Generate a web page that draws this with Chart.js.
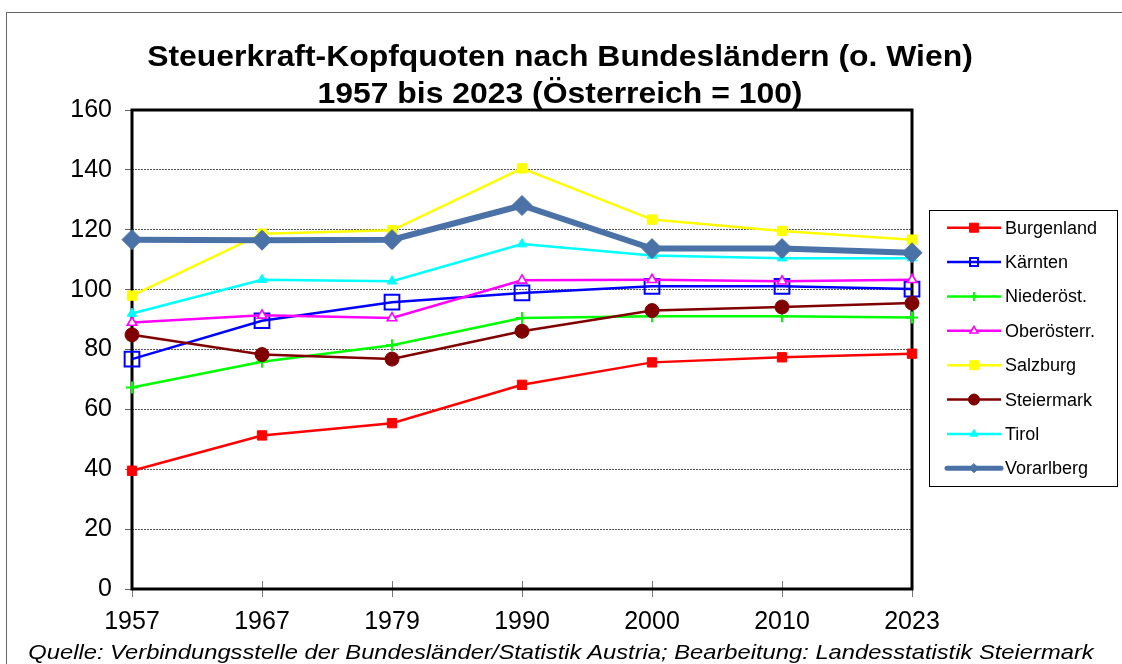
<!DOCTYPE html>
<html><head><meta charset="utf-8">
<script src="https://cdn.jsdelivr.net/npm/chart.js@4"></script>
<style>
html,body{margin:0;padding:0;background:#fff;overflow:hidden;}
#wrap{position:relative;width:1122px;height:664px;overflow:hidden;font-family:"Liberation Sans",Arial,sans-serif;background:#fff;}
#frame{position:absolute;left:6px;top:12px;width:1200px;height:700px;border:1px solid #666;}
.t{position:absolute;left:0;width:1120px;text-align:center;font-weight:bold;font-size:29px;line-height:29px;color:#000;white-space:nowrap;transform:scaleX(1.10);transform-origin:560px 0;}
#foot{position:absolute;left:0;width:1122px;text-align:center;font-style:italic;font-size:21px;line-height:21px;top:641px;white-space:nowrap;color:#000;transform:scaleX(1.13);transform-origin:561px 0;}
canvas{position:absolute;left:0;top:0;}
</style></head>
<body>
<div id="wrap">
<div id="frame"></div>
<canvas id="c" width="1122" height="664"></canvas>
<div class="t" style="top:42px">Steuerkraft-Kopfquoten nach Bundesländern (o. Wien)</div>
<div class="t" style="top:79px">1957 bis 2023 (Österreich = 100)</div>
<div id="foot">Quelle: Verbindungsstelle der Bundesländer/Statistik Austria; Bearbeitung: Landesstatistik Steiermark</div>
</div>
<script>
// ---- data ----
const years = ['1957','1967','1979','1990','2000','2010','2023'];
const seriesNames = ['Burgenland','Kärnten','Niederöst.','Oberösterr.','Salzburg','Steiermark','Tirol','Vorarlberg'];
const burgenland  = [39.5, 51.3, 55.4, 68.2, 75.7, 77.4, 78.6];
const kaernten    = [76.8, 89.6, 95.8, 98.9, 101.1, 101.1, 100.2];
const niederoest  = [67.3, 75.9, 81.4, 90.5, 91.1, 91.1, 90.7];
const oberoest    = [89.0, 91.4, 90.5, 103.1, 103.3, 102.8, 103.3];
const salzburg    = [98.0, 118.7, 119.8, 140.5, 123.4, 119.6, 116.7];
const steiermark  = [84.9, 78.3, 76.8, 86.1, 93.0, 94.2, 95.5];
const tirol       = [92.0, 103.3, 102.8, 115.2, 111.4, 110.5, 110.5];
const vorarlberg  = [116.7, 116.5, 116.7, 128.1, 113.7, 113.7, 112.3];
const yTicks = [0, 20, 40, 60, 80, 100, 120, 140, 160];

const seriesValues = [burgenland, kaernten, niederoest, oberoest, salzburg, steiermark, tirol, vorarlberg];

// ---- styles ----
const styles = [
  {c:'#FF0000', ps:'rect',     r:6.6,  bg:'#FF0000', bw:2.5, pbw:1, lr:6.4},
  {c:'#0000FF', ps:'rect',     r:10.4, bg:'rgba(0,0,0,0)', bw:2.5, pbw:2, lr:5.6},
  {c:'#00FF00', ps:'cross',    r:6,    bg:'#00FF00', bw:2.5, pbw:2, lr:4.5},
  {c:'#FF00FF', ps:'triangle', r:5.5,  bg:'#FFFFFF', bw:2.5, pbw:1.6, lr:4.5},
  {c:'#FFFF00', ps:'rect',     r:6.6,  bg:'#FFFF00', bw:2.5, pbw:1, lr:6.4},
  {c:'#800000', ps:'circle',   r:7,    bg:'#800000', bw:2.5, pbw:1, lr:5.5},
  {c:'#00FFFF', ps:'triangle', r:5.5,  bg:'#00FFFF', bw:2.5, pbw:1, lr:4.5},
  {c:'#4A72A6', ps:'rectRot',  r:10,   bg:'#4A72A6', bw:6,   pbw:1, lr:4.5}
];

const datasets = seriesNames.map((name, i) => ({
  label: name,
  data: seriesValues[i],
  borderColor: styles[i].c,
  backgroundColor: styles[i].bg,
  borderWidth: styles[i].bw,
  pointStyle: styles[i].ps,
  pointRadius: styles[i].r,
  pointHoverRadius: styles[i].r,
  pointBackgroundColor: styles[i].bg,
  pointBorderColor: styles[i].c,
  pointBorderWidth: styles[i].pbw,
  legendRadius: styles[i].lr,
  tension: 0,
  fill: false,
  clip: false,
  order: seriesNames.length - i
}));

function drawMarker(ctx, style, x, y, r, fill, stroke, bw) {
  ctx.save();
  ctx.fillStyle = fill; ctx.strokeStyle = stroke; ctx.lineWidth = bw;
  ctx.beginPath();
  if (style === 'rect') {
    const s = Math.SQRT1_2 * r;
    ctx.rect(x - s, y - s, 2 * s, 2 * s);
    ctx.fill(); ctx.stroke();
  } else if (style === 'rectRot') {
    ctx.moveTo(x, y - r); ctx.lineTo(x + r, y); ctx.lineTo(x, y + r); ctx.lineTo(x - r, y); ctx.closePath();
    ctx.fill(); ctx.stroke();
  } else if (style === 'circle') {
    ctx.arc(x, y, r, 0, Math.PI * 2); ctx.fill(); ctx.stroke();
  } else if (style === 'triangle') {
    ctx.moveTo(x, y - r); ctx.lineTo(x + r * 0.866, y + r * 0.5); ctx.lineTo(x - r * 0.866, y + r * 0.5); ctx.closePath();
    ctx.fill(); ctx.stroke();
  } else if (style === 'cross') {
    ctx.moveTo(x, y - r); ctx.lineTo(x, y + r); ctx.moveTo(x - r, y); ctx.lineTo(x + r, y); ctx.stroke();
  }
  ctx.restore();
}

const framePlugin = {
  id: 'frame',
  beforeDatasetsDraw(chart) {
    const {ctx, chartArea: a} = chart;
    const xs = chart.scales.x;
    ctx.save();
    ctx.strokeStyle = '#777'; ctx.lineWidth = 1;
    for (let i = 0; i < years.length; i++) {
      const px = Math.round(xs.getPixelForTick(i)) + 0.5;
      ctx.beginPath(); ctx.moveTo(px, a.bottom - 8); ctx.lineTo(px, a.bottom); ctx.stroke();
    }
    ctx.strokeStyle = '#000'; ctx.lineWidth = 3;
    ctx.strokeRect(a.left, a.top, a.right - a.left, a.bottom - a.top);
    ctx.restore();
  }
};

const legendPlugin = {
  id: 'customLegend',
  afterDraw(chart) {
    const ctx = chart.ctx;
    ctx.save();
    ctx.strokeStyle = '#000'; ctx.lineWidth = 1;
    ctx.strokeRect(929.5, 210.5, 188, 276);
    ctx.font = '18px "Liberation Sans", Arial, sans-serif';
    ctx.textBaseline = 'middle'; ctx.textAlign = 'left'; ctx.fillStyle = '#000';
    chart.data.datasets.forEach((ds, i) => {
      const y = 227.7 + i * 34.37;
      ctx.strokeStyle = ds.borderColor;
      ctx.lineWidth = ds.borderWidth === 6 ? 5 : 2.5;
      ctx.lineCap = ds.borderWidth === 6 ? 'round' : 'butt';
      ctx.beginPath(); ctx.moveTo(947, y); ctx.lineTo(1001, y); ctx.stroke();
      drawMarker(ctx, ds.pointStyle, 974, y, ds.legendRadius, ds.pointBackgroundColor, ds.pointBorderColor, ds.pointBorderWidth);
      ctx.fillStyle = '#000';
      ctx.fillText(ds.label, 1005, y + 1);
    });
    ctx.restore();
  }
};

new Chart(document.getElementById('c'), {
  type: 'line',
  data: { labels: years, datasets: datasets },
  options: {
    responsive: false,
    animation: false,
    layout: { padding: { left: 0, top: 110, right: 210, bottom: 0 } },
    plugins: { legend: { display: false }, title: { display: false }, tooltip: { enabled: false } },
    scales: {
      x: {
        type: 'category',
        offset: false,
        afterFit(s) { s.height = 75; },
        grid: { drawOnChartArea: false, drawTicks: true, tickLength: 8, tickColor: '#777', color: '#777', lineWidth: 1 },
        border: { display: false },
        ticks: { color: '#000', padding: 10, font: { family: '"Liberation Sans", Arial, sans-serif', size: 25 }, maxRotation: 0, autoSkip: false }
      },
      y: {
        min: 0, max: 160,
        afterFit(s) { s.width = 132; },
        afterBuildTicks(s) { s.ticks = yTicks.map(v => ({ value: v })); },
        grid: { color: '#555', lineWidth: 1, tickLength: 7, tickColor: '#666', tickBorderDash: [], drawTicks: true },
        border: { display: false, dash: [2, 1] },
        ticks: { color: '#000', padding: 13, font: { family: '"Liberation Sans", Arial, sans-serif', size: 25 } }
      }
    }
  },
  plugins: [framePlugin, legendPlugin]
});
</script>
</body></html>
